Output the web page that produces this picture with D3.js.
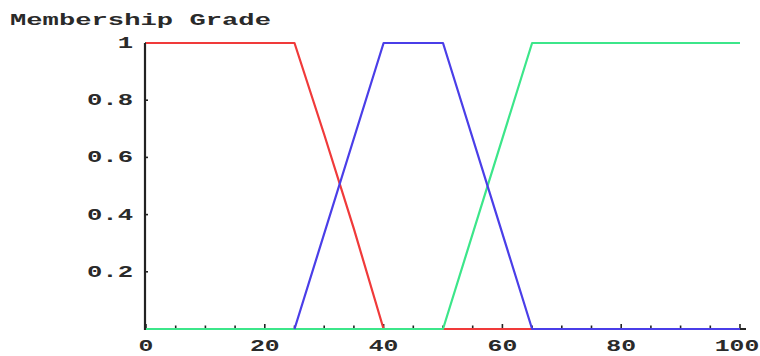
<!DOCTYPE html>
<html>
<head>
<meta charset="utf-8">
<script src="https://cdn.jsdelivr.net/npm/d3@7"></script>
<style>
  html, body { margin: 0; padding: 0; background: #fff; }
  svg { display: block; }
  text { font-family: "Liberation Mono", "DejaVu Sans Mono", monospace; font-weight: bold; fill: #2a2a2a; }
</style>
</head>
<body>
<svg id="chart" width="760" height="356"></svg>
<script>
// Membership functions: low (red), medium (blue), high (green)
const lowX  = [0, 25, 30, 35, 40, 100];
const lowY  = [1, 1, 0.68, 0.35, 0, 0];
const midX  = [25, 40, 50, 65, 100];
const midY  = [0, 1, 1, 0, 0];
const highX = [0, 50, 65, 100];
const highY = [0, 0, 1, 1];

const xTickLabels = [0, 20, 40, 60, 80, 100];
const xMinorTicks = d3.range(0, 101, 5);
const yTickLabels = [0.2, 0.4, 0.6, 0.8, 1];
const yLabelText  = ["0.2", "0.4", "0.6", "0.8", "1"];
const title = "Membership Grade";

const svg = d3.select("#chart");
const x = d3.scaleLinear().domain([0, 100]).range([146, 740]);
const y = d3.scaleLinear().domain([0, 1]).range([329, 43]);

const sx = 1.6; // wide monospace lettering

// title
svg.append("text")
  .attr("transform", `translate(10,25) scale(1.7,1)`)
  .style("font-size", "16px")
  .text(title);

// axes
const axisColor = "#222";
svg.append("line")
  .attr("x1", x(0) - 1).attr("x2", x(0) - 1)
  .attr("y1", y(1)).attr("y2", y(0) + 1)
  .attr("stroke", axisColor).attr("stroke-width", 2.2);
svg.append("line")
  .attr("x1", x(0) - 2).attr("x2", x(100) + 6)
  .attr("y1", y(0)).attr("y2", y(0))
  .attr("stroke", axisColor).attr("stroke-width", 2);

// x ticks (minor every 5, major every 20)
svg.append("g").selectAll("line")
  .data(xMinorTicks)
  .join("line")
  .attr("x1", d => x(d)).attr("x2", d => x(d))
  .attr("y1", y(0))
  .attr("y2", d => y(0) - (d % 20 === 0 ? 5 : 3.5))
  .attr("stroke", axisColor).attr("stroke-width", 1.6);

// y ticks
svg.append("g").selectAll("line")
  .data(yTickLabels)
  .join("line")
  .attr("x1", x(0) - 1).attr("x2", x(0) + 2)
  .attr("y1", d => y(d)).attr("y2", d => y(d))
  .attr("stroke", axisColor).attr("stroke-width", 1.6);

// tick labels
svg.append("g").selectAll("text")
  .data(xTickLabels)
  .join("text")
  .attr("transform", d => `translate(${x(d) - (d === 100 ? 3 : 0)},${y(0) + 22}) scale(1.55,1)`)
  .attr("text-anchor", "middle")
  .style("font-size", "16px")
  .text(d => d);

svg.append("g").selectAll("text")
  .data(yTickLabels)
  .join("text")
  .attr("transform", d => `translate(133,${y(d) + 5}) scale(${sx},1)`)
  .attr("text-anchor", "end")
  .style("font-size", "16px")
  .text((d, i) => yLabelText[i]);

// curves
const line = d3.line().x(d => x(d[0])).y(d => y(d[1]));
const series = [
  { xs: lowX,  ys: lowY,  color: "#f03a3a" },
  { xs: highX, ys: highY, color: "#3ce68a" },
  { xs: midX,  ys: midY,  color: "#4a3ee8" }
];
svg.append("g").selectAll("path")
  .data(series)
  .join("path")
  .attr("d", s => line(s.xs.map((v, i) => [v, s.ys[i]])))
  .attr("fill", "none")
  .attr("stroke", s => s.color)
  .attr("stroke-width", 2.2)
  .attr("stroke-linejoin", "round");
</script>
</body>
</html>
